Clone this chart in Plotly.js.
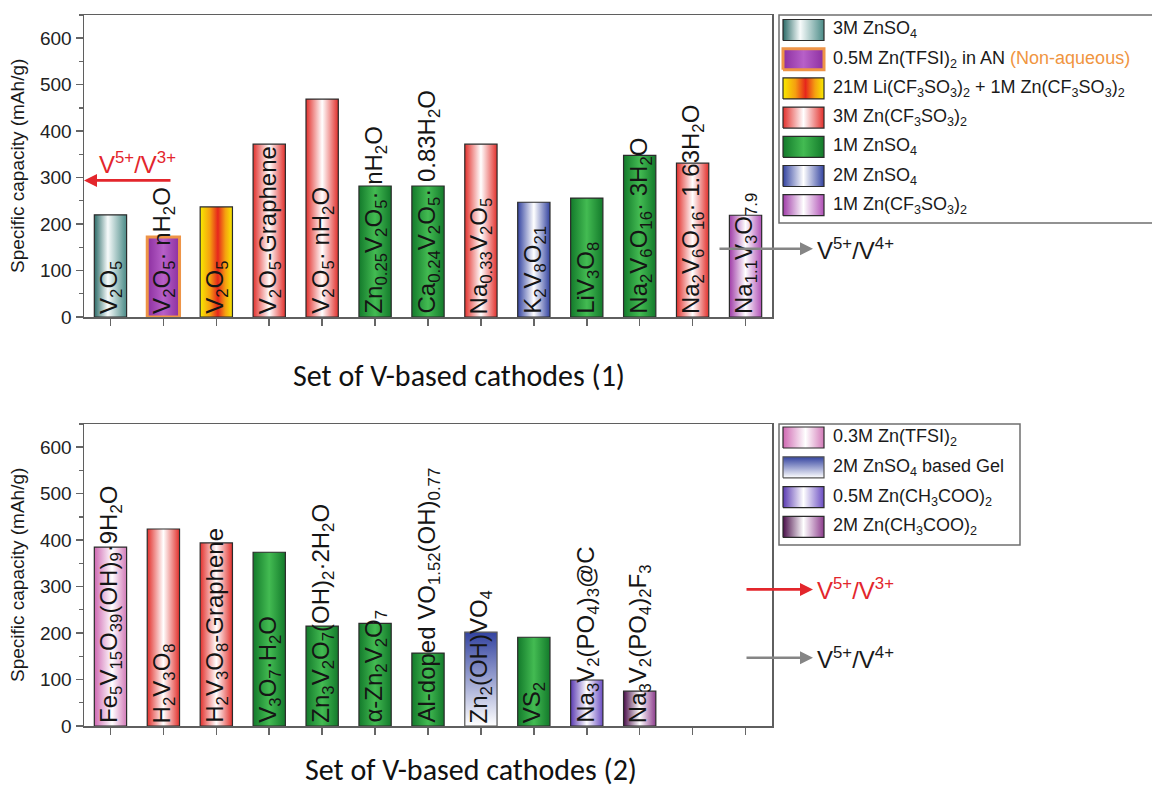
<!DOCTYPE html>
<html>
<head>
<meta charset="utf-8">
<script src="https://cdn.plot.ly/plotly-3.0.1.min.js"></script>
<style>
  html, body { margin: 0; padding: 0; background: #ffffff; }
  #chart { width: 1152px; height: 790px; }
</style>
</head>
<body>
<div id="chart"></div>
<script>
// ---------- Set of V-based cathodes (1) ----------
const set1Cathodes = [
  'V<sub>2</sub>O<sub>5</sub>',
  'V<sub>2</sub>O<sub>5</sub>· nH<sub>2</sub>O',
  'V<sub>2</sub>O<sub>5</sub>',
  'V<sub>2</sub>O<sub>5</sub>-Graphene',
  'V<sub>2</sub>O<sub>5</sub>· nH<sub>2</sub>O',
  'Zn<sub>0.25</sub>V<sub>2</sub>O<sub>5</sub>· nH<sub>2</sub>O',
  'Ca<sub>0.24</sub>V<sub>2</sub>O<sub>5</sub>· 0.83H<sub>2</sub>O',
  'Na<sub>0.33</sub>V<sub>2</sub>O<sub>5</sub>',
  'K<sub>2</sub>V<sub>8</sub>O<sub>21</sub>',
  'LiV<sub>3</sub>O<sub>8</sub>',
  'Na<sub>2</sub>V<sub>6</sub>O<sub>16</sub>· 3H<sub>2</sub>O',
  'Na<sub>2</sub>V<sub>6</sub>O<sub>16</sub>· 1.63H<sub>2</sub>O',
  'Na<sub>1.1</sub>V<sub>3</sub>O<sub>7.9</sub>'
];
const set1Capacity = [220, 172, 237, 372, 469, 282, 282, 372, 247, 256, 348, 331, 219];
const set1Electrolyte = ['zs3', 'tfsiAN', 'wis', 'otf3', 'otf3', 'zs1', 'zs1', 'otf3', 'zs2', 'zs1', 'zs1', 'otf3', 'otf1'];
const set1Slots = 13;

// ---------- Set of V-based cathodes (2) ----------
const set2Cathodes = [
  'Fe<sub>5</sub>V<sub>15</sub>O<sub>39</sub>(OH)<sub>9</sub>·9H<sub>2</sub>O',
  'H<sub>2</sub>V<sub>3</sub>O<sub>8</sub>',
  'H<sub>2</sub>V<sub>3</sub>O<sub>8</sub>-Graphene',
  'V<sub>3</sub>O<sub>7</sub>·H<sub>2</sub>O',
  'Zn<sub>3</sub>V<sub>2</sub>O<sub>7</sub>(OH)<sub>2</sub>·2H<sub>2</sub>O',
  'α-Zn<sub>2</sub>V<sub>2</sub>O<sub>7</sub>',
  'Al-doped VO<sub>1.52</sub>(OH)<sub>0.77</sub>',
  'Zn<sub>2</sub>(OH)VO<sub>4</sub>',
  'VS<sub>2</sub>',
  'Na<sub>3</sub>V<sub>2</sub>(PO<sub>4</sub>)<sub>3</sub>@C',
  'Na<sub>3</sub>V<sub>2</sub>(PO<sub>4</sub>)<sub>2</sub>F<sub>3</sub>'
];
const set2Capacity = [385, 424, 394, 374, 215, 221, 157, 202, 191, 99, 75];
const set2Electrolyte = ['tfsi03', 'otf3', 'otf3', 'zs1', 'zs1', 'zs1', 'zs1', 'gel', 'zs1', 'ac05', 'ac2'];
const set2Slots = 13;

// ---------- Electrolyte legends ----------
const legend1Keys = ['zs3', 'tfsiAN', 'wis', 'otf3', 'zs1', 'zs2', 'otf1'];
const legend1Labels = [
  '3M ZnSO<sub>4</sub>',
  '0.5M Zn(TFSI)<sub>2</sub> in AN <span style="color:#f0953f">(Non-aqueous)</span>',
  '21M Li(CF<sub>3</sub>SO<sub>3</sub>)<sub>2</sub> + 1M Zn(CF<sub>3</sub>SO<sub>3</sub>)<sub>2</sub>',
  '3M Zn(CF<sub>3</sub>SO<sub>3</sub>)<sub>2</sub>',
  '1M ZnSO<sub>4</sub>',
  '2M ZnSO<sub>4</sub>',
  '1M Zn(CF<sub>3</sub>SO<sub>3</sub>)<sub>2</sub>'
];
const legend2Keys = ['tfsi03', 'gel', 'ac05', 'ac2'];
const legend2Labels = [
  '0.3M Zn(TFSI)<sub>2</sub>',
  '2M ZnSO<sub>4</sub> based Gel',
  '0.5M Zn(CH<sub>3</sub>COO)<sub>2</sub>',
  '2M Zn(CH<sub>3</sub>COO)<sub>2</sub>'
];

// ---------- Theoretical capacity levels ----------
const redoxLabels = ['V<sup>5+</sup>/V<sup>3+</sup>', 'V<sup>5+</sup>/V<sup>4+</sup>'];
const redoxCapacity = [294, 147];

// ---------- Styling ----------
const W = 1152, H = 790;
const ARIAL = 'Liberation Sans, Arial, sans-serif';
const EDGE = '#2b2b2b';
const styles = {
  zs3:    { scale: [[0, '#2c6b68'], [0.42, '#f7fbfb'], [1, '#4b8b87']], edge: EDGE },
  tfsiAN: { scale: [[0, '#8c2fa0'], [0.5, '#b760c8'], [1, '#8c2fa0']], edge: '#ee9447', width: 3 },
  wis:    { scale: [[0, '#f8ea00'], [0.3, '#f5a010'], [0.55, '#e6261c'], [0.78, '#f5a010'], [1, '#f8ea00']], edge: EDGE },
  otf3:   { scale: [[0, '#e2302c'], [0.5, '#ffffff'], [1, '#e2302c']], edge: EDGE },
  zs1:    { scale: [[0, '#137a2b'], [0.5, '#43bb52'], [1, '#137a2b']], edge: EDGE },
  zs2:    { scale: [[0, '#3343a0'], [0.5, '#ffffff'], [1, '#3343a0']], edge: EDGE },
  otf1:   { scale: [[0, '#a03ca8'], [0.5, '#ffffff'], [1, '#b050b6']], edge: EDGE },
  tfsi03: { scale: [[0, '#cf68b2'], [0.55, '#ffffff'], [1, '#d27ab8']], edge: EDGE },
  gel:    { scale: [[0, '#ffffff'], [1, '#3343a0']], edge: '#555555', dir: 'vertical' },
  ac05:   { scale: [[0, '#5a3ab2'], [0.5, '#ffffff'], [1, '#6a4cc2']], edge: EDGE },
  ac2:    { scale: [[0, '#4a0e4a'], [0.5, '#ffffff'], [1, '#8c3c8c']], edge: EDGE }
};

// plot frames in page pixels
const frame = { left: 84, right: 772, top1: 15, bottom1: 317, top2: 424, bottom2: 726 };
const legendBox1 = { left: 779, top: 15, bottom: 223, right: 1190 };
const legendBox2 = { left: 779, top: 424, bottom: 545, right: 1020 };
const halfBar = 0.305;

function rect(x0, x1, y0, y1, style, xa, ya) {
  return {
    type: 'scatter', mode: 'lines',
    x: [x0, x0, x1, x1, x0], y: [y0, y1, y1, y0, y0],
    xaxis: xa, yaxis: ya,
    fill: 'toself',
    fillgradient: { type: style.dir || 'horizontal', colorscale: style.scale },
    line: { color: style.edge, width: style.width || 1.2 },
    hoverinfo: 'skip', showlegend: false
  };
}

const traces = [];
const annotations = [];

function addBars(caps, kinds, labels, xa, ya) {
  caps.forEach((v, i) => {
    const xc = i + 1;
    traces.push(rect(xc - halfBar, xc + halfBar, 0, v, styles[kinds[i]], xa, ya));
    annotations.push({
      xref: xa, yref: ya, x: xc, y: 0, xanchor: 'center', yanchor: 'bottom',
      yshift: 1, textangle: -90, showarrow: false, text: labels[i],
      font: { family: ARIAL, size: 24, color: '#151515' }
    });
  });
}
addBars(set1Capacity, set1Electrolyte, set1Cathodes, 'x', 'y');
addBars(set2Capacity, set2Electrolyte, set2Cathodes, 'x2', 'y2');

// legend swatches, drawn on local pixel axes
function addLegend(keys, labels, box, xa, ya, firstRow, rowStep) {
  const h = box.bottom - box.top;
  keys.forEach((k, i) => {
    const cy = h - (firstRow + i * rowStep);
    traces.push(rect(4, 45, cy - 10.5, cy + 10.5, styles[k], xa, ya));
    annotations.push({
      xref: xa, yref: ya, x: 52, y: cy, xanchor: 'left', yanchor: 'middle',
      showarrow: false, text: labels[i],
      font: { family: ARIAL, size: 18, color: '#1a1a1a' }
    });
  });
}
addLegend(legend1Keys, legend1Labels, legendBox1, 'x3', 'y3', 15, 29.2);
addLegend(legend2Keys, legend2Labels, legendBox2, 'x4', 'y4', 13.5, 29.8);

// theoretical capacity arrows
const RED = '#e3262c', GREY = '#858585';
const arrowBase = { showarrow: true, arrowhead: 2, arrowsize: 1, arrowwidth: 2.6, text: '', ay: 0, ayref: 'pixel', axref: 'pixel' };
// set (1): V5+/V3+ points at the y axis
annotations.push(Object.assign({}, arrowBase, { xref: 'x', yref: 'y', x: 0.5, y: redoxCapacity[0], ax: 88, arrowcolor: RED }));
annotations.push({ xref: 'paper', yref: 'y', x: 137 / W, y: redoxCapacity[0] + 38, xanchor: 'center', yanchor: 'middle',
  showarrow: false, text: redoxLabels[0], font: { family: ARIAL, size: 24, color: RED } });
// set (1): V5+/V4+ points out to the right
annotations.push(Object.assign({}, arrowBase, { xref: 'paper', yref: 'y', x: 813 / W, y: redoxCapacity[1], ax: -95, arrowcolor: GREY }));
annotations.push({ xref: 'paper', yref: 'y', x: 815 / W, y: redoxCapacity[1], xanchor: 'left', yanchor: 'middle',
  showarrow: false, text: redoxLabels[1], font: { family: ARIAL, size: 24, color: '#1a1a1a' } });
// set (2): both levels point out to the right
[[0, RED, RED], [1, GREY, '#1a1a1a']].forEach(([k, ac, tc]) => {
  annotations.push(Object.assign({}, arrowBase, { xref: 'paper', yref: 'y2', x: 813 / W, y: redoxCapacity[k], ax: -68, arrowcolor: ac }));
  annotations.push({ xref: 'paper', yref: 'y2', x: 815 / W, y: redoxCapacity[k], xanchor: 'left', yanchor: 'middle',
    showarrow: false, text: redoxLabels[k], font: { family: ARIAL, size: 24, color: tc } });
});

// axis titles
const TITLE_FONT = { family: 'Carlito, Lato, sans-serif', size: 30, color: '#111111' };
[[frame.top1, frame.bottom1], [frame.top2, frame.bottom2]].forEach(([t, b]) => {
  annotations.push({ xref: 'paper', yref: 'paper', x: 17 / W, y: 1 - (t + b) / 2 / H, xanchor: 'center', yanchor: 'middle',
    textangle: -90, showarrow: false, text: 'Specific capacity (mAh/g)', font: { family: ARIAL, size: 19, color: '#1a1a1a' } });
});
annotations.push({ xref: 'paper', yref: 'paper', x: 459 / W, y: 1 - 375 / H, xanchor: 'center', yanchor: 'middle',
  showarrow: false, text: 'Set of V-based cathodes (1)', font: TITLE_FONT });
annotations.push({ xref: 'paper', yref: 'paper', x: 471 / W, y: 0, xanchor: 'center', yanchor: 'bottom', borderpad: 0, yshift: 1,
  showarrow: false, text: 'Set of V-based cathodes (2)', font: TITLE_FONT });

function xAxis(slots, yanchor) {
  const ticks = Array.from({ length: slots }, (_, i) => i + 1);
  return {
    domain: [frame.left / W, frame.right / W], range: [0.5, slots + 0.5], anchor: yanchor,
    tickvals: ticks, showticklabels: false, ticks: 'outside', ticklen: 7, tickwidth: 1.5, tickcolor: '#666',
    showline: true, linecolor: '#5f5f5f', linewidth: 1.5, mirror: true, showgrid: false, zeroline: false, fixedrange: true
  };
}
function yAxis(top, bottom, xanchor) {
  return {
    domain: [1 - bottom / H, 1 - top / H], range: [0, 650], anchor: xanchor,
    tick0: 0, dtick: 100, ticks: 'outside', ticklen: 7, tickwidth: 1.5, tickcolor: '#666',
    minor: { dtick: 50, ticks: 'outside', ticklen: 4, tickwidth: 1.2, tickcolor: '#666' },
    showline: true, linecolor: '#5f5f5f', linewidth: 1.5, mirror: true, showgrid: false, zeroline: false,
    tickfont: { family: ARIAL, size: 19, color: '#222' }, fixedrange: true
  };
}
function localAxes(box, horizontal) {
  if (horizontal) {
    const right = Math.min(box.right, W);
    return { domain: [box.left / W, right / W], range: [0, right - box.left], visible: false, fixedrange: true };
  }
  return { domain: [1 - box.bottom / H, 1 - box.top / H], range: [0, box.bottom - box.top], visible: false, fixedrange: true };
}

const boxShape = (b) => ({
  type: 'rect', xref: 'paper', yref: 'paper', layer: 'below',
  x0: b.left / W, x1: b.right / W, y0: 1 - b.bottom / H, y1: 1 - b.top / H,
  line: { color: '#6f6f6f', width: 1.5 }, fillcolor: 'rgba(0,0,0,0)'
});

const layout = {
  width: W, height: H,
  margin: { l: 0, r: 0, t: 0, b: 0 },
  paper_bgcolor: '#ffffff', plot_bgcolor: 'rgba(0,0,0,0)',
  showlegend: false,
  xaxis: xAxis(set1Slots, 'y'),
  yaxis: yAxis(frame.top1, frame.bottom1, 'x'),
  xaxis2: xAxis(set2Slots, 'y2'),
  yaxis2: yAxis(frame.top2, frame.bottom2, 'x2'),
  xaxis3: Object.assign(localAxes(legendBox1, true), { anchor: 'y3' }),
  yaxis3: Object.assign(localAxes(legendBox1, false), { anchor: 'x3' }),
  xaxis4: Object.assign(localAxes(legendBox2, true), { anchor: 'y4' }),
  yaxis4: Object.assign(localAxes(legendBox2, false), { anchor: 'x4' }),
  shapes: [boxShape(legendBox1), boxShape(legendBox2)],
  annotations: annotations
};

Plotly.newPlot('chart', traces, layout, { displayModeBar: false, staticPlot: true });
</script>
</body>
</html>
